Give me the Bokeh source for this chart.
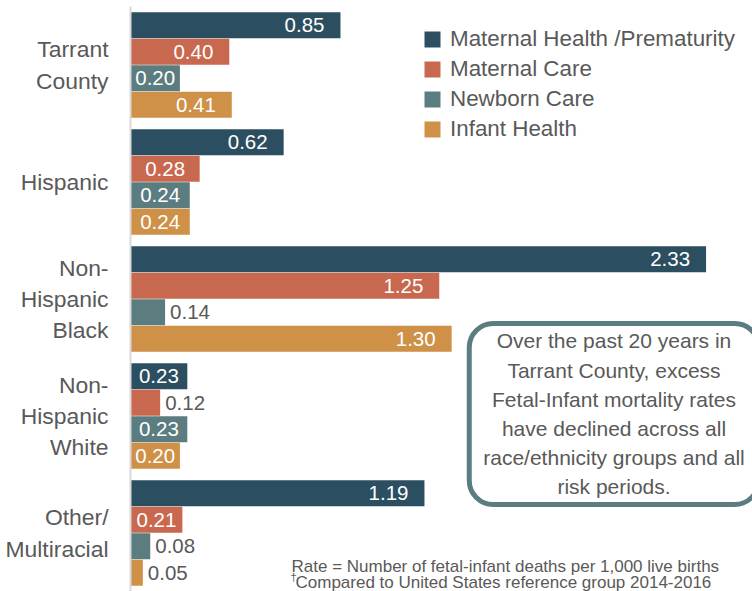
from bokeh.plotting import figure
from bokeh.models import FactorRange, Range1d, ColumnDataSource, Label, Legend, LegendItem
from bokeh.transform import dodge
from bokeh.core.properties import value
from bokeh.embed import file_html
from bokeh.resources import INLINE

groups = ["Tarrant\nCounty", "Hispanic", "Non-\nHispanic\nBlack", "Non-\nHispanic\nWhite", "Other/\nMultiracial"]
series_names = ["Maternal Health /Prematurity", "Maternal Care", "Newborn Care", "Infant Health"]
maternal_health = [0.85, 0.62, 2.33, 0.23, 1.19]
maternal_care = [0.40, 0.28, 1.25, 0.12, 0.21]
newborn_care = [0.20, 0.24, 0.14, 0.23, 0.08]
infant_health = [0.41, 0.24, 1.30, 0.20, 0.05]
colors = ["#2B4E60", "#C8694F", "#5B7D80", "#CE9147"]
note_text = ("Over the past 20 years in\nTarrant County, excess\nFetal-Infant mortality rates\n"
             "have declined across all\nrace/ethnicity groups and all\nrisk periods.")
foot1 = "Rate = Number of fetal-infant deaths per 1,000 live births"
foot2 = "Compared to United States reference group 2014-2016"

FONT = "Liberation Sans"
GRAY = "#595959"

p = figure(width=752, height=591, output_backend="svg", toolbar_location=None,
           y_range=FactorRange(factors=list(reversed(groups)), range_padding=0),
           x_range=Range1d(0, 2.518),
           min_border_left=130, min_border_right=0, min_border_top=6, min_border_bottom=0)
p.outline_line_color = None
p.xaxis.visible = False
p.xgrid.grid_line_color = None
p.ygrid.grid_line_color = None
p.yaxis.axis_line_color = "#D9D9D9"
p.yaxis.axis_line_width = 2
p.yaxis.major_tick_line_color = None
p.yaxis.major_tick_out = 0
p.yaxis.major_tick_in = 0
p.yaxis.minor_tick_line_color = None
p.yaxis.major_label_standoff = 22
p.yaxis.major_label_text_font = FONT
p.yaxis.major_label_text_font_size = "22.9px"
p.yaxis.major_label_text_color = GRAY

pitch = 0.2265
offsets = [1.5 * pitch, 0.5 * pitch, -0.5 * pitch, -1.5 * pitch]
all_vals = [maternal_health, maternal_care, newborn_care, infant_health]

items = []
for name, vals, col, off in zip(series_names, all_vals, colors, offsets):
    src = ColumnDataSource(dict(g=groups, v=vals))
    r = p.hbar(y=dodge("g", off, range=p.y_range), right="v", left=0, height=0.221,
               fill_color=col, line_color=None, source=src)
    items.append(LegendItem(label=name, renderers=[r]))

    # label placement by bar length
    right_g, right_v = [], []
    cen_g, cen_v, cen_x = [], [], []
    out_g, out_v = [], []
    for g, v in zip(groups, vals):
        if v < 0.15:
            out_g.append(g); out_v.append(v)
        elif v < 0.29:
            cen_g.append(g); cen_v.append(v); cen_x.append(v / 2)
        else:
            right_g.append(g); right_v.append(v)
    common = dict(text_font_size="20.5px", text_baseline="middle", text_font=value(FONT))
    if right_g:
        s = ColumnDataSource(dict(g=right_g, x=right_v, t=["%.2f" % v for v in right_v]))
        p.text(x="x", y=dodge("g", off, range=p.y_range), text="t", source=s,
               text_align="right", x_offset=-16, text_color="white", **common)
    if cen_g:
        s = ColumnDataSource(dict(g=cen_g, x=cen_x, t=["%.2f" % v for v in cen_v]))
        p.text(x="x", y=dodge("g", off, range=p.y_range), text="t", source=s,
               text_align="center", text_color="white", **common)
    if out_g:
        s = ColumnDataSource(dict(g=out_g, x=out_v, t=["%.2f" % v for v in out_v]))
        p.text(x="x", y=dodge("g", off, range=p.y_range), text="t", source=s,
               text_align="left", x_offset=5, text_color=GRAY, **common)

legend = Legend(items=items, location=(292, 449), orientation="vertical",
                glyph_width=20, glyph_height=20, label_height=20, spacing=4,
                label_standoff=8, padding=0, margin=0, border_line_color=None,
                background_fill_alpha=0, label_text_font=FONT,
                label_text_font_size="22.4px", label_text_color=GRAY)
p.add_layout(legend, "center")

note = Label(x=483.5, y=177.6, x_units="screen", y_units="screen", text=note_text,
             text_align="center", text_baseline="middle", text_font=FONT,
             text_font_size="21px", text_color=GRAY, text_line_height=1.27,
             border_line_color="#5B7D80", border_line_width=5, border_radius=24,
             background_fill_color="white", padding=(14, 6))
p.add_layout(note)

p.add_layout(Label(x=161, y=25, x_units="screen", y_units="screen", text=foot1,
                   text_font=FONT, text_font_size="17px", text_color=GRAY,
                   text_baseline="middle"))
p.add_layout(Label(x=160, y=14.5, x_units="screen", y_units="screen", text="\u2020",
                   text_font=FONT, text_font_size="11px", text_color=GRAY,
                   text_baseline="middle"))
p.add_layout(Label(x=165, y=9.5, x_units="screen", y_units="screen", text=foot2,
                   text_font=FONT, text_font_size="17px", text_color=GRAY,
                   text_baseline="middle"))

open("out.html", "w").write(file_html(p, INLINE))
